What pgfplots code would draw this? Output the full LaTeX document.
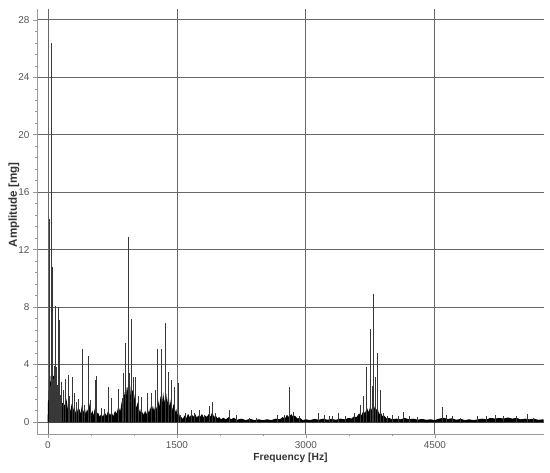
\documentclass[border=0pt]{standalone}
\usepackage{pgfplots}
\pgfplotsset{compat=1.18}
\usepackage{fontspec}
\setmainfont{Liberation Sans}
\definecolor{gridc}{HTML}{666666}
\definecolor{axisc}{HTML}{9A9A9A}
\definecolor{tickc}{HTML}{555555}
\definecolor{spikec}{HTML}{383838}
\begin{document}
\begin{tikzpicture}[x=1bp,y=1bp]
\useasboundingbox (-37,-39) rectangle (513,434);
\begin{axis}[
  at={(0,0)}, anchor=south west, scale only axis,
  width=507bp, height=425bp,
  xmin=-128, xmax=5770, ymin=-0.84, ymax=28.76,
  axis x line*=bottom, axis y line*=left,
  axis line style={-, draw=axisc, line width=0.8bp},
  xtick={0,1500,3000,4500}, ytick={0,4,...,28},
  minor x tick num=2, minor y tick num=4,
  tick align=outside,
  major tick length=4bp, minor tick length=2bp,
  tick style={draw=axisc, line width=0.6bp},
  grid=major,
  major grid style={draw=gridc, line width=0.85bp},
  /pgf/number format/assume math mode=true,
  /pgf/number format/set thousands separator={},
  ticklabel style={font=\fontsize{10}{12}\selectfont, text=tickc},
  xlabel={Frequency [Hz]}, ylabel={Amplitude [mg]},
  xlabel style={font=\fontsize{10.3}{12}\selectfont\bfseries, text=black!80, yshift=2bp},
  ylabel style={font=\fontsize{11.6}{13}\selectfont\bfseries, text=black!80,
    at={(axis description cs:-0.0454,0.539)}, anchor=center, rotate=0},
]
% noise floor
\addplot[fill=black, draw=black, line width=0.8bp] coordinates {
(0,0) (5,1.5) (10,0.5) (15,3.0) (20,1.2) (25,2.8) (30,1.0) (35,3.2) (40,1.5) (45,3.0)
(50,1.8) (55,2.6) (60,1.2) (65,3.2) (70,1.5) (75,2.5) (80,1.0) (90,2.2) (100,0.8)
(110,2.0) (120,1.0) (130,2.4) (140,1.0) (150,1.8) (160,0.7) (170,1.3) (180,0.6)
(190,1.2) (200,0.6) (215,1.4) (230,0.7) (245,1.2) (260,0.5) (275,1.1) (290,0.6)
(305,1.0) (320,0.4) (335,0.9) (350,0.5) (365,0.8) (380,0.4) (395,1.0) (410,0.5)
(425,0.9) (440,0.4) (455,0.8) (470,0.6) (485,1.1) (500,0.4) (515,0.7) (530,0.3)
(545,0.8) (560,0.4) (580,0.6) (600,0.3) (620,0.5) (640,0.3) (660,0.6) (680,0.35)
(700,0.7) (720,0.4) (740,0.6) (760,0.3) (780,0.7) (800,0.5) (820,1.0) (840,0.6)
(860,1.3) (875,0.8) (890,1.8) (905,1.0) (920,2.4) (935,1.3) (950,2.6) (965,1.2)
(980,2.2) (995,1.0) (1010,1.7) (1025,0.7) (1040,1.2) (1055,0.5) (1070,0.8) (1085,0.3)
(1100,0.6) (1115,0.4) (1130,0.7) (1145,0.4) (1160,0.8) (1175,0.5) (1190,0.9) (1205,0.5)
(1220,1.0) (1235,0.6) (1250,1.1) (1265,0.7) (1280,1.4) (1295,0.8) (1310,1.6) (1325,0.9)
(1340,1.8) (1355,1.0) (1370,2.0) (1385,1.0) (1400,1.7) (1415,0.8) (1430,1.4) (1445,0.6)
(1460,1.1) (1475,0.5) (1490,0.8) (1505,0.3) (1520,0.6) (1535,0.15) (1550,0.3) (1570,0.15)
(1590,0.4) (1610,0.2) (1630,0.5) (1650,0.25) (1670,0.5) (1690,0.3) (1710,0.5) (1730,0.25)
(1750,0.4) (1770,0.3) (1790,0.5) (1810,0.25) (1830,0.4) (1850,0.3) (1870,0.5) (1890,0.3)
(1910,0.6) (1930,0.3) (1950,0.4) (1970,0.2) (1990,0.3) (2010,0.15) (2040,0.25) (2070,0.15)
(2100,0.3) (2130,0.15) (2160,0.25) (2200,0.12) (2250,0.2) (2300,0.1) (2350,0.18) (2400,0.1)
(2450,0.15) (2500,0.1) (2550,0.15) (2600,0.1) (2650,0.2) (2700,0.15) (2730,0.3) (2760,0.2)
(2780,0.45) (2800,0.3) (2830,0.5) (2850,0.3) (2870,0.4) (2900,0.2) (2930,0.25) (2960,0.1)
(3000,0.15) (3050,0.1) (3100,0.18) (3150,0.12) (3200,0.2) (3250,0.12) (3300,0.18) (3350,0.12)
(3400,0.2) (3450,0.15) (3500,0.25) (3530,0.2) (3560,0.35) (3590,0.3) (3620,0.55) (3645,0.4)
(3670,0.7) (3690,0.55) (3710,0.9) (3730,0.6) (3750,1.0) (3770,0.7) (3790,1.05) (3810,0.7)
(3830,0.9) (3850,0.5) (3870,0.6) (3890,0.35) (3910,0.4) (3940,0.2) (3970,0.25) (4000,0.15)
(4050,0.2) (4100,0.15) (4150,0.25) (4200,0.15) (4250,0.2) (4300,0.12) (4350,0.18) (4400,0.12)
(4450,0.15) (4500,0.1) (4550,0.2) (4600,0.25) (4650,0.18) (4700,0.22) (4750,0.12) (4800,0.18)
(4850,0.1) (4900,0.15) (4950,0.1) (5000,0.15) (5050,0.2) (5100,0.15) (5150,0.25) (5200,0.2)
(5250,0.25) (5300,0.2) (5350,0.28) (5400,0.2) (5450,0.25) (5500,0.15) (5550,0.2) (5600,0.15)
(5650,0.2) (5700,0.12) (5760,0.15) (5760,0)
} \closedcycle;
% spectral lines
\addplot[ycomb, draw=spikec, line width=1bp] coordinates {
(12,14.1) (43,26.4) (55,10.8) (70,3.9) (87,8.1) (100,3.8) (122,8.0) (138,7.1)
(20,1.4) (30,2.5) (48,5.0) (62,3.0) (78,2.4) (95,1.8) (110,2.6) (130,3.2) (150,1.9)
(160,2.8) (180,2.2) (201,3.0) (233,3.3) (255,1.8) (283,3.1) (310,2.0) (330,1.4)
(352,1.6) (399,5.1) (430,1.2) (473,4.6) (500,1.5) (550,2.9) (566,3.2) (620,1.0)
(660,0.9) (705,2.4) (744,1.7) (822,2.3) (869,1.7) (879,3.4) (899,5.5) (932,12.9)
(952,3.4) (975,7.2) (991,3.1) (1018,3.15) (1049,1.8) (1087,1.75) (1160,2.0)
(1203,2.0) (1246,2.2) (1276,5.1) (1322,5.05) (1361,6.9) (1396,3.5) (1437,2.9)
(1477,2.46) (1515,2.74)
(1545,0.5) (1600,0.6) (1671,0.8) (1700,0.6) (1767,0.85) (1820,0.5) (1876,1.1)
(1910,1.4) (1950,0.6) (2116,0.8) (2194,0.45) (2349,0.3) (2430,0.3) (2674,0.5)
(2756,0.5) (2814,2.45) (2852,0.7) (2930,0.4) (3150,0.6) (3220,0.5) (3270,0.4)
(3310,0.4) (3380,0.65) (3460,0.4) (3560,0.6) (3636,1.2) (3671,1.8) (3709,3.8)
(3748,6.45) (3770,2.5) (3787,8.9) (3806,3.15) (3829,4.83) (3869,2.2) (3900,0.6)
(3950,0.4) (4010,0.45) (4080,0.4) (4131,0.67) (4200,0.4) (4300,0.35) (4585,1.07)
(4640,0.45) (4700,0.4) (4800,0.3) (5000,0.4) (5100,0.4) (5200,0.45) (5300,0.4)
(5450,0.4) (5578,0.56) (5650,0.3)
};
\end{axis}
\end{tikzpicture}
\end{document}
